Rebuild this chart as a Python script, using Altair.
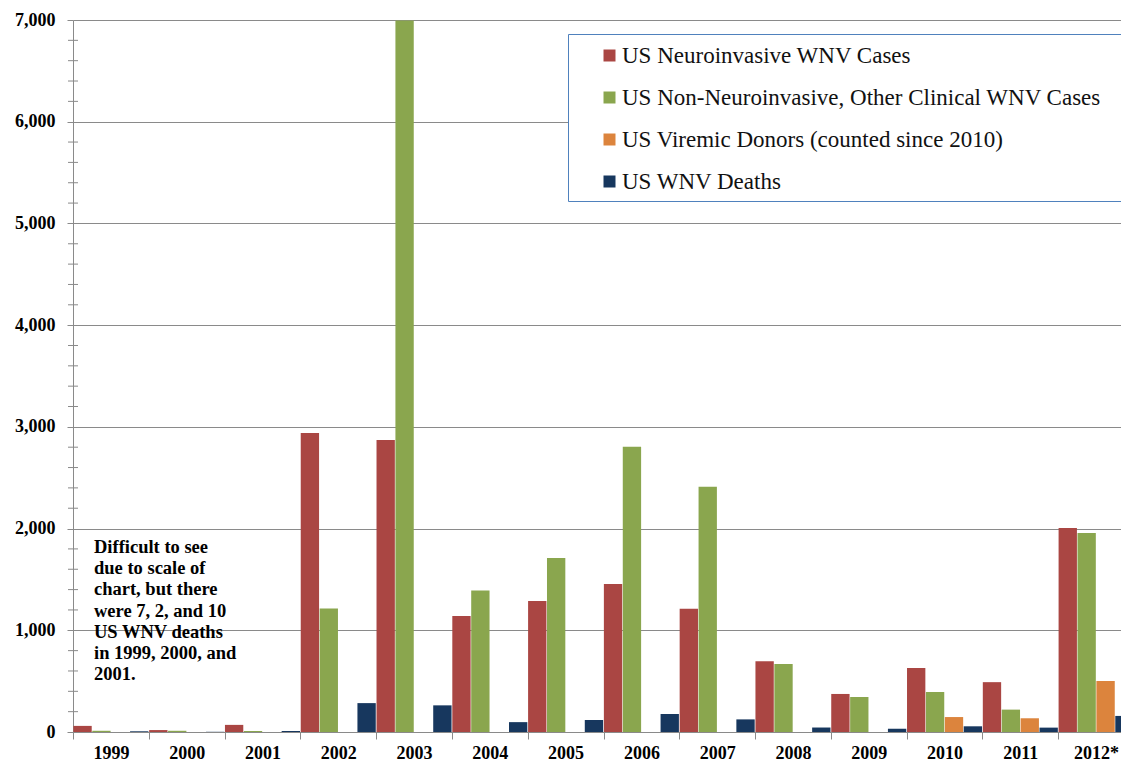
import altair as alt
import pandas as pd

years = ["1999", "2000", "2001", "2002", "2003", "2004", "2005", "2006",
         "2007", "2008", "2009", "2010", "2011", "2012*"]
series = ["US Neuroinvasive WNV Cases",
          "US Non-Neuroinvasive, Other Clinical WNV Cases",
          "US Viremic Donors (counted since 2010)",
          "US WNV Deaths"]
colors = ["#AA4643", "#8AA64E", "#DC843D", "#17375E"]

neuro = [60, 19, 70, 2940, 2870, 1140, 1288, 1455, 1212, 695, 374, 629, 490, 2006]
non_neuro = [12, 12, 10, 1215, 6996, 1390, 1711, 2805, 2410, 669, 344, 393, 220, 1957]
donors = [None, None, None, None, None, None, None, None, None, None, None, 147, 135, 501]
deaths = [7, 2, 10, 284, 262, 97, 118, 177, 124, 44, 32, 56, 43, 158]

y_ticks = [0, 1000, 2000, 3000, 4000, 5000, 6000, 7000]
minor_ticks = [v for v in range(200, 7000, 200) if v % 1000 != 0]

note_lines = ["Difficult to see", "due to scale of", "chart, but there",
              "were 7, 2, and 10", "US WNV deaths", "in 1999, 2000, and", "2001."]

rows = []
for name, vals in zip(series, [neuro, non_neuro, donors, deaths]):
    for yr, v in zip(years, vals):
        if v is not None:
            rows.append({"year": yr, "series": name, "value": v})
df = pd.DataFrame(rows)

FONT = "Liberation Serif"
GREY = "#8a8a8a"

bars = alt.Chart(df).mark_bar().encode(
    x=alt.X("year:N", sort=years,
            scale=alt.Scale(domain=years, range=[0, 1061], paddingInner=0, paddingOuter=0),
            axis=alt.Axis(title=None, labelFont=FONT, labelFontSize=18, labelFontWeight="bold",
                          labelColor="black", labelAngle=0, tickBand="extent", tickSize=7,
                          tickColor=GREY, domainColor=GREY, labelPadding=5, grid=False)),
    xOffset=alt.XOffset("series:N", sort=series,
                        scale=alt.Scale(domain=series, paddingInner=0.03, paddingOuter=0.02)),
    y=alt.Y("value:Q", scale=alt.Scale(domain=[0, 7000], nice=False),
            axis=alt.Axis(title=None, values=y_ticks, format=",.0f", labelFont=FONT,
                          labelFontSize=18, labelFontWeight="bold", labelColor="black",
                          labelPadding=12, tickSize=6, tickColor=GREY, domainColor=GREY,
                          gridColor=GREY, gridWidth=1, grid=True)),
    color=alt.Color("series:N", sort=series,
                    scale=alt.Scale(domain=series, range=colors),
                    legend=alt.Legend(title=None, orient="none", legendX=525, legendY=24,
                                      symbolType="square", symbolSize=144, symbolStrokeWidth=0,
                                      labelFont=FONT, labelFontSize=23, labelColor="#111111",
                                      rowPadding=18, labelOffset=1, labelLimit=0, padding=0)),
)

minor = alt.Chart(pd.DataFrame({"v": minor_ticks})).mark_rule(color=GREY, strokeWidth=1).encode(
    y="v:Q", x=alt.value(-5), x2=alt.value(5)
)

box = alt.Chart(pd.DataFrame({"a": [0]})).mark_rect(
    fill="white", stroke="#4F81BD", strokeWidth=1
).encode(x=alt.value(495.5), x2=alt.value(1120), y=alt.value(14.5), y2=alt.value(181.5))

note = alt.Chart(pd.DataFrame({"a": [0]})).mark_text(
    align="left", baseline="alphabetic", font=FONT, fontSize=18.5, fontWeight="bold",
    color="black", lineHeight=21.2
).encode(x=alt.value(21), y=alt.value(533), text=alt.value(note_lines))

chart = alt.layer(bars, minor, box, note).properties(
    width=1048, height=712,
    autosize=alt.AutoSizeParams(type="none"),
    padding={"left": 65, "top": 12, "right": 0, "bottom": 32},
).configure_view(stroke=None).configure_legend(
    labelFont=FONT
).configure_axis(labelFont=FONT)

chart.save("out.html", embed_options={"renderer": "svg", "actions": False})
